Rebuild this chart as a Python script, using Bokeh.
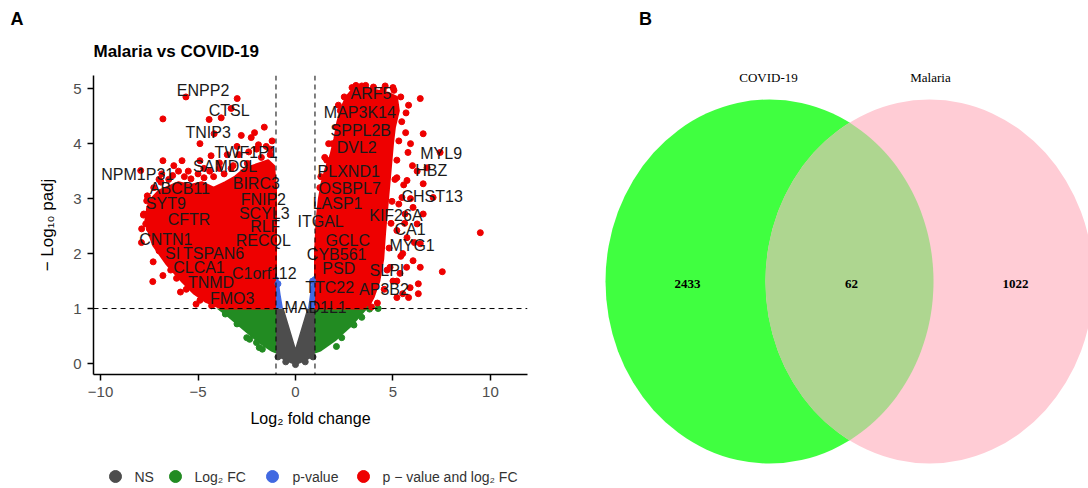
import numpy as np
from bokeh.plotting import figure
from bokeh.models import Range1d, Span, FixedTicker, Title
from bokeh.layouts import row, column
from bokeh.core.properties import value
from bokeh.embed import file_html
from bokeh.resources import INLINE

# ---------------- data ----------------
x_ticks = [-10, -5, 0, 5, 10]
y_ticks = [0, 1, 2, 3, 4, 5]
fc_cutoff = 1.0
p_cutoff = 1.0

# dense cloud outlines (log2FC, -log10 padj)
red_left_x = [-1.0, -3.8, -4.6, -5.2, -5.8, -6.2, -6.6, -6.9, -7.3, -7.5, -7.7, -7.6, -7.4, -7.0, -6.5, -6.0,
              -5.4, -4.8, -4.2, -3.6, -3.1, -2.6, -2.2, -1.8, -1.4, -1.1, -1.0]
red_left_y = [1.0, 1.0, 1.12, 1.27, 1.48, 1.64, 1.8, 1.95, 2.15, 2.35, 2.6, 2.85, 3.0, 3.15, 3.22, 3.3,
              3.25, 3.3, 3.2, 3.3, 3.4, 3.55, 3.6, 3.65, 3.7, 3.6, 3.2]
red_right_x = [1.0, 1.0, 1.08, 1.2, 1.35, 1.55, 1.8, 2.0, 2.15, 2.35, 2.6, 2.9, 3.3, 3.8, 4.3, 4.8, 5.2, 5.3,
               5.1, 5.0, 4.9, 4.8, 4.7, 4.6, 4.5, 4.3, 4.0, 3.7]
red_right_y = [1.0, 2.0, 2.6, 3.0, 3.3, 3.55, 3.8, 4.1, 4.4, 4.65, 4.85, 4.98, 5.02, 5.0, 4.96, 4.92, 4.85, 4.6,
               4.3, 4.0, 3.6, 3.2, 2.8, 2.4, 1.9, 1.5, 1.2, 1.0]
grey_x = [-1.0, -1.0, -0.75, -0.45, -0.15, 0.0, 0.15, 0.45, 0.75, 1.0, 1.0, 0.6, 0.0, -0.6]
grey_y = [1.0, 0.18, 0.09, 0.03, -0.01, -0.02, -0.01, 0.03, 0.09, 0.18, 1.0, 1.0, 0.29, 1.0]
blue_left_x = [-1.0, -1.0, -0.88, -0.76, -0.64]
blue_left_y = [1.0, 1.6, 1.56, 1.25, 1.0]
blue_right_x = [0.64, 0.74, 0.86, 1.0, 1.0]
blue_right_y = [1.0, 1.25, 1.57, 1.6, 1.0]
green_left_x = [-1.0, -4.05, -3.5, -3.0, -2.5, -2.0, -1.6, -1.25, -1.0]
green_left_y = [1.0, 1.0, 0.85, 0.7, 0.55, 0.4, 0.3, 0.22, 0.18]
green_right_x = [1.0, 1.0, 1.3, 1.7, 2.1, 2.5, 2.9, 3.3, 3.7]
green_right_y = [1.0, 0.18, 0.22, 0.32, 0.42, 0.55, 0.68, 0.84, 1.0]

# individual genes
red_pts_x = [-5.62, -2.99, -3.3, -3.81, -4.43, -6.8, -2.78, -2.27, -4.9, -4.17, -5.82, -6.8, -4.9, -4.33,
             -6.24, -7.94, -6.86, -5.36, -4.69, -3.66, -2.47, -1.75, -7.27, -7.63, -7.78, -7.68, -7.89,
             -7.32, -7.1, -6.65,
             -5.6, -6.4, -7.0, -7.5, -7.8, -7.6, -6.9, -6.5, -5.7, -5.0, -4.4, -3.9, -3.2, -2.9, -2.0,
             -1.5, -1.2, -1.3, -2.4, -4.2, -3.3, -6.0, -6.7, -6.1, -4.3, -4.9,
             -7.0, -6.3, -5.5, -4.7, -3.9, -3.5, -2.1, -1.6, -7.9, -7.3, -6.8, -5.9, -5.1, -3.0, -1.9, -1.3,
             6.4, 5.67, 6.55, 5.77, 7.42, 6.75, 6.24, 5.72, 5.2, 7.06, 6.55, 5.46, 6.03, 5.62, 6.55, 6.24,
             9.48, 5.2, 5.72, 6.4, 5.5, 6.03, 7.53, 6.4, 5.36, 6.3, 5.88, 6.3, 5.5, 5.2, 4.85,
             1.3, 1.6, 1.9, 2.1, 2.3, 2.5, 2.9, 3.4, 4.0, 4.5, 5.05, 5.4, 5.45, 5.3, 5.2, 5.1, 4.95, 4.9,
             4.8, 4.7, 4.55, 4.2, 3.9, 5.0, 5.4, 5.6, 5.3, 5.55, 5.65, 5.8,
             5.2, 5.8, 6.0, 5.9, 6.1, 5.7, 5.9, 5.0, 4.6, 2.2, 1.7, 1.5, 1.25, 3.1, 3.6]
red_pts_y = [4.85, 4.82, 4.64, 4.47, 4.44, 4.45, 4.15, 4.11, 4.0, 4.18, 3.69, 3.69, 3.69, 3.78,
             3.6, 3.51, 3.45, 3.36, 3.38, 3.45, 3.64, 3.75, 3.2, 2.96, 2.72, 2.54, 2.45,
             1.49, 2.24, 2.0,
             1.35, 1.7, 2.05, 2.45, 2.7, 3.05, 3.3, 3.35, 3.4, 3.45, 3.5, 3.55, 3.6, 3.8, 3.9,
             3.95, 4.05, 3.8, 3.85, 3.4, 3.55, 3.5, 2.95, 1.55, 1.05, 1.15,
             3.35, 3.42, 3.5, 3.55, 3.65, 3.8, 4.2, 4.3, 2.2, 1.85, 1.6, 1.3, 1.08, 3.95, 3.98, 3.9,
             4.82, 4.56, 4.18, 3.84, 3.84, 3.56, 3.5, 3.33, 3.38, 3.02, 3.27, 3.02, 2.84, 2.72, 2.72, 2.54,
             2.38, 2.42, 2.29, 2.18, 2.0, 1.87, 1.67, 1.75, 1.64, 1.45, 1.38, 1.27, 1.27, 1.5, 1.75,
             3.4, 3.7, 4.0, 4.3, 4.6, 4.85, 5.02, 5.05, 5.03, 4.98, 4.97, 4.85, 4.4, 4.05, 3.7, 3.35, 2.95, 2.55,
             2.1, 1.7, 1.35, 1.1, 1.03, 1.5, 1.95, 2.55, 2.9, 3.25, 4.2, 4.7,
             1.2, 1.2, 3.6, 3.0, 2.2, 1.75, 4.0, 5.02, 5.05, 4.7, 4.0, 3.75, 3.2, 5.06, 5.06]
green_pts_x = [-2.5, -2.35, -1.86, -1.7, -3.6, -3.0, 3.8, 4.24, 3.4, 2.37, 2.1, 3.0, -2.0]
green_pts_y = [0.47, 0.44, 0.29, 0.26, 0.9, 0.72, 0.99, 1.0, 0.84, 0.47, 0.31, 0.7, 0.38]
grey_pts_x = [-0.9, 0.9, 0.0, -0.5, 0.5]
grey_pts_y = [0.12, 0.12, -0.02, 0.03, 0.03]
blue_pts_x = [-0.9, 0.88]
blue_pts_y = [1.45, 1.5]

gene_names = ["ENPP2", "CTSL", "TNIP3", "TWF1P1", "SAMD9L", "NPM1P31", "BIRC3", "ABCB11", "FNIP2", "SYT9",
              "SCYL3", "CFTR", "RLF", "CNTN1", "RECQL", "SI", "TSPAN6", "CLCA1", "C1orf112", "TNMD", "FMO3",
              "ARF5", "MAP3K14", "SPPL2B", "DVL2", "MYL9", "HBZ", "PLXND1", "OSBPL7", "CHST13", "LASP1",
              "KIF26A", "ITGAL", "CA1", "GCLC", "MYG1", "CYB561", "PSD", "SLPI", "TTC22", "AP3B2", "MAD1L1"]
gene_x = [-4.74, -3.40, -4.48, -2.53, -3.61, -8.09, -2.01, -5.93, -1.65, -6.65,
          -1.6, -5.46, -1.55, -6.65, -1.65, -6.3, -4.2, -4.95, -1.6, -4.33, -3.25,
          3.87, 3.3, 3.35, 3.14, 7.47, 6.96, 2.73, 2.78, 7.01, 2.16,
          5.15, 1.29, 5.88, 2.68, 5.98, 2.11, 2.22, 4.69, 1.75, 4.54, 1.03]
gene_y = [4.96, 4.60, 4.2, 3.84, 3.58, 3.44, 3.27, 3.18, 2.98, 2.91,
          2.73, 2.62, 2.49, 2.25, 2.24, 2.0, 2.0, 1.75, 1.64, 1.47, 1.18,
          4.91, 4.56, 4.24, 3.93, 3.82, 3.51, 3.49, 3.18, 3.04, 2.91,
          2.69, 2.58, 2.44, 2.24, 2.15, 1.98, 1.73, 1.69, 1.38, 1.35, 1.02]

legend_labels = ["NS", "Log\u2082 FC", "p-value", "p \u2212 value and log\u2082 FC"]
legend_colors = ["#4D4D4D", "#228B22", "#4169E1", "#EE0000"]

venn_sets = ["COVID-19", "Malaria"]
venn_counts = [2433, 62, 1022]

RED, GREEN, BLUE, GREY = "#EE0000", "#228B22", "#4169E1", "#4D4D4D"
FONT = "Liberation Sans"

# ---------------- volcano plot ----------------
p = figure(width=590, height=440, x_range=Range1d(-10.36, 11.9), y_range=Range1d(-0.2, 5.24),
           output_backend="svg", toolbar_location=None, title=None,
           min_border_left=93, min_border_right=63, min_border_top=75, min_border_bottom=66)
p.xgrid.visible = False
p.ygrid.visible = False
p.outline_line_color = None
p.background_fill_color = "white"

p.patch(grey_x, grey_y, color=GREY, line_width=0)
p.patch(green_left_x, green_left_y, color=GREEN, line_width=0)
p.patch(green_right_x, green_right_y, color=GREEN, line_width=0)
p.patch(red_left_x, red_left_y, color=RED, line_width=2, line_color=RED)
p.patch(red_right_x, red_right_y, color=RED, line_width=2, line_color=RED)
p.patch(blue_left_x, blue_left_y, color=BLUE, line_width=0)
p.patch(blue_right_x, blue_right_y, color=BLUE, line_width=0)
p.scatter(grey_pts_x, grey_pts_y, size=6, color=GREY)
p.scatter(green_pts_x, green_pts_y, size=6, color=GREEN)
p.scatter(red_pts_x, red_pts_y, size=6, color=RED)
p.scatter(blue_pts_x, blue_pts_y, size=6, color=BLUE)

for xv in (-fc_cutoff, fc_cutoff):
    p.add_layout(Span(location=xv, dimension="height", line_color="black", line_width=1, line_dash="5 4"))
p.add_layout(Span(location=p_cutoff, dimension="width", line_color="black", line_width=1, line_dash="5 4"))

p.text(gene_x, gene_y, text=gene_names, text_align="center", text_baseline="middle",
       text_font=value(FONT), text_font_size="16px", text_color="#1a1a1a")

for ax in (p.xaxis[0], p.yaxis[0]):
    ax.axis_line_color = "black"
    ax.axis_line_width = 1.5
    ax.major_tick_line_color = "black"
    ax.major_tick_line_width = 1.5
    ax.major_tick_out = 6
    ax.major_tick_in = 0
    ax.minor_tick_line_color = None
    ax.major_label_text_font = FONT
    ax.major_label_text_font_size = "15px"
    ax.major_label_text_color = "#4D4D4D"
    ax.major_label_standoff = 6
    ax.axis_label_text_font = FONT
    ax.axis_label_text_font_size = "16px"
    ax.axis_label_text_font_style = "normal"
    ax.axis_label_text_color = "black"
p.xaxis.ticker = FixedTicker(ticks=x_ticks)
p.yaxis.ticker = FixedTicker(ticks=y_ticks)
p.xaxis.axis_label = "Log\u2082 fold change"
p.xaxis.axis_label_standoff = 10
p.yaxis.axis_label = "\u2212 Log\u2081\u2080 padj"
p.yaxis.axis_label_text_font_size = "17px"
p.yaxis.axis_label_standoff = 13

p.add_layout(Title(text="Malaria vs COVID-19", align="left", offset=0, standoff=30,
                   text_font=FONT, text_font_size="17px", text_font_style="bold", text_color="black"), "above")
p.add_layout(Title(text="A", align="left", offset=-83, standoff=-8,
                   text_font=FONT, text_font_size="18px", text_font_style="bold", text_color="black"), "above")

# ---------------- legend strip (frame aligned with the volcano frame: px 93..527) ----------------
lg = figure(width=590, height=48, x_range=Range1d(93, 527), y_range=Range1d(0, 48),
            output_backend="svg", toolbar_location=None, min_border=0)
lg.axis.visible = False
lg.grid.visible = False
lg.outline_line_color = None
leg_dot_x = [115, 175, 272, 363]
leg_text_x = [134, 194, 292, 382]
lg.scatter(leg_dot_x, [12] * 4, size=12, color=legend_colors)
lg.text(leg_text_x, [12] * 4, text=legend_labels, text_align="left", text_baseline="middle",
        text_font=value(FONT), text_font_size="14px", text_color="#333333")

left = column(p, lg, spacing=0)

# ---------------- Venn diagram ----------------
v = figure(width=498, height=488, x_range=Range1d(0, 498), y_range=Range1d(0, 488),
           output_backend="svg", toolbar_location=None, min_border=0)
v.axis.visible = False
v.grid.visible = False
v.outline_line_color = None

cx1, cx2, cy, ew, eh = 179, 339, 207, 328, 364
v.ellipse([cx1], [cy], width=ew, height=eh, color="#40FF40", line_width=0)
v.ellipse([cx2], [cy], width=ew, height=eh, color="#FFCCD5", line_width=0)
a, b = ew / 2, eh / 2
ymax = b * np.sqrt(1 - (((cx2 - cx1) / 2) / a) ** 2)
t = np.linspace(-ymax, ymax, 80)
half = a * np.sqrt(1 - (t / b) ** 2)
lens_x = np.concatenate([cx2 - half, (cx1 + half)[::-1]])
lens_y = np.concatenate([cy + t, (cy + t)[::-1]])
v.patch(lens_x, lens_y, color="#AED690", line_width=0)

v.text([178, 340], [411, 411], text=venn_sets, text_align="center", text_baseline="middle",
       text_font=value("Liberation Serif"), text_font_size="13px", text_color="black")
v.text([97, 261, 425], [205, 205, 205], text=[str(c) for c in venn_counts], text_align="center",
       text_baseline="middle", text_font=value("Liberation Serif"), text_font_size="13px",
       text_font_style="bold", text_color="black")
v.text([55], [470], text=["B"], text_align="center", text_baseline="middle",
       text_font=value(FONT), text_font_size="18px", text_font_style="bold", text_color="black")

layout = row(left, v, spacing=0)
open("out.html", "w").write(file_html(layout, INLINE))
